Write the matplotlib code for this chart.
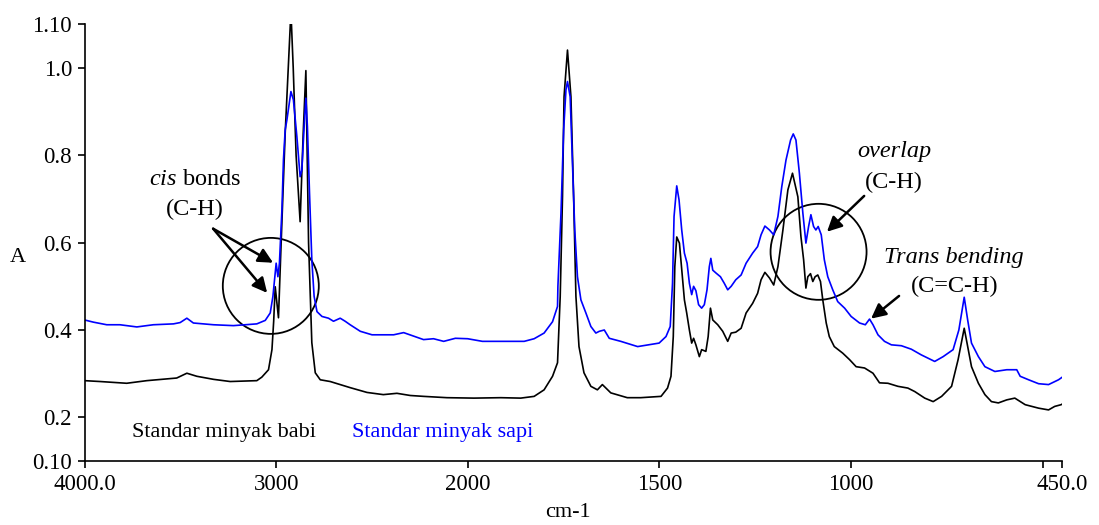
import numpy as np
import matplotlib
matplotlib.use("Agg")
import matplotlib.pyplot as plt
from matplotlib.patches import Circle
from matplotlib.transforms import ScaledTranslation

plt.rcParams['font.family'] = 'serif'
plt.rcParams['font.serif'] = ['Liberation Serif', 'DejaVu Serif']
plt.rcParams['mathtext.fontset'] = 'custom'
plt.rcParams['mathtext.rm'] = 'Liberation Serif'
plt.rcParams['mathtext.it'] = 'Liberation Serif:italic'

# Standar minyak babi (black)
wn_babi = [4000, 3919, 3780, 3675, 3519, 3466, 3414, 3327, 3240, 3101, 3075, 3040, 3022, 3013,
           3005, 2988, 2974, 2953, 2937, 2923, 2911, 2896, 2875, 2859, 2845, 2831, 2814, 2796,
           2770, 2718, 2666, 2614, 2526, 2441, 2370, 2300, 2231, 2109, 1984, 1914, 1862, 1827,
           1801, 1779, 1766, 1759, 1753, 1749, 1740, 1731, 1724, 1718, 1710, 1697, 1679, 1662,
           1649, 1627, 1584, 1549, 1496, 1479, 1470, 1464, 1460, 1455, 1448, 1442, 1435, 1429,
           1422, 1416, 1411, 1405, 1396, 1390, 1379, 1373, 1367, 1361, 1348, 1335, 1322, 1313,
           1301, 1287, 1274, 1257, 1244, 1235, 1225, 1213, 1202, 1191, 1178, 1165, 1153, 1139,
           1131, 1124, 1118, 1113, 1106, 1100, 1094, 1087, 1080, 1074, 1065, 1057, 1044, 1022,
           1004, 987, 965, 943, 926, 904, 878, 852, 834, 808, 786, 764, 738, 721, 705, 696, 686,
           668, 651, 634, 616, 594, 573, 546, 511, 485, 469, 452, 439, 435]
a_babi = [0.284, 0.282, 0.278, 0.284, 0.290, 0.301, 0.294, 0.287, 0.282, 0.284, 0.292, 0.309, 0.355, 0.42,
          0.499, 0.428, 0.60, 0.85, 1.0, 1.13, 1.0, 0.80, 0.648, 0.85, 0.994, 0.60, 0.371, 0.302,
          0.286, 0.282, 0.275, 0.268, 0.257, 0.252, 0.255, 0.250, 0.248, 0.245, 0.244, 0.245, 0.244, 0.248,
          0.263, 0.294, 0.325, 0.477, 0.705, 0.934, 1.041, 0.934, 0.705, 0.477, 0.362, 0.302, 0.271, 0.263,
          0.275, 0.256, 0.245, 0.245, 0.248, 0.267, 0.294, 0.385, 0.545, 0.613, 0.599, 0.538, 0.469, 0.439,
          0.40, 0.37, 0.381, 0.366, 0.339, 0.355, 0.351, 0.385, 0.45, 0.423, 0.412, 0.397, 0.374, 0.393,
          0.395, 0.404, 0.439, 0.461, 0.484, 0.515, 0.532, 0.519, 0.503, 0.545, 0.629, 0.721, 0.759, 0.705,
          0.614, 0.561, 0.496, 0.522, 0.529, 0.511, 0.522, 0.526, 0.511, 0.469, 0.416, 0.385, 0.362, 0.347,
          0.332, 0.316, 0.313, 0.301, 0.279, 0.278, 0.271, 0.267, 0.259, 0.244, 0.236, 0.248, 0.271, 0.332, 0.404, 0.362, 0.316,
          0.278, 0.252, 0.236, 0.233, 0.240, 0.244, 0.229, 0.221, 0.217, 0.225, 0.229, 0.236, 0.233]

# Standar minyak sapi (blue)
wn_sapi = [4000, 3954, 3884, 3815, 3727, 3641, 3536, 3501, 3466, 3432, 3327, 3223, 3101, 3057, 3031,
           3017, 3005, 3000, 2991, 2983, 2970, 2962, 2953, 2944, 2923, 2910, 2892, 2875, 2866, 2854,
           2845, 2837, 2826, 2814, 2802, 2787, 2761, 2727, 2701, 2666, 2640, 2614, 2561, 2500, 2387,
           2335, 2283, 2231, 2179, 2126, 2065, 2001, 1962, 1853, 1827, 1801, 1779, 1766, 1765, 1757,
           1750, 1744, 1740, 1733, 1727, 1721, 1714, 1705, 1692, 1679, 1666, 1657, 1644, 1631, 1601,
           1557, 1501, 1483, 1472, 1466, 1462, 1455, 1449, 1442, 1435, 1428, 1422, 1416, 1411, 1405,
           1398, 1390, 1383, 1376, 1370, 1366, 1361, 1352, 1341, 1331, 1322, 1313, 1301, 1287, 1274,
           1257, 1244, 1235, 1225, 1213, 1202, 1191, 1181, 1170, 1158, 1151, 1144, 1135, 1126, 1118,
           1111, 1105, 1098, 1092, 1086, 1078, 1070, 1061, 1048, 1035, 1017, 1000, 978, 963, 952, 943,
           930, 913, 895, 869, 843, 817, 782, 760, 734, 719, 705, 696, 686, 668, 651, 625, 594, 568,
           559, 537, 511, 485, 459, 441, 435]
a_sapi = [0.423, 0.418, 0.412, 0.412, 0.407, 0.412, 0.414, 0.417, 0.427, 0.416, 0.412, 0.410, 0.414, 0.422, 0.439,
          0.477, 0.53, 0.553, 0.522, 0.553, 0.675, 0.79, 0.858, 0.881, 0.946, 0.927, 0.843, 0.751, 0.766, 0.866,
          0.931, 0.866, 0.713, 0.561, 0.477, 0.442, 0.431, 0.427, 0.420, 0.427, 0.420, 0.412, 0.397, 0.389, 0.389,
          0.394, 0.386, 0.378, 0.380, 0.374, 0.381, 0.380, 0.374, 0.374, 0.380, 0.393, 0.419, 0.454, 0.50, 0.667,
          0.858, 0.950, 0.969, 0.934, 0.782, 0.629, 0.522, 0.469, 0.439, 0.408, 0.393, 0.397, 0.400, 0.381, 0.374,
          0.362, 0.370, 0.385, 0.408, 0.507, 0.660, 0.730, 0.698, 0.629, 0.576, 0.553, 0.507, 0.481, 0.50, 0.490,
          0.458, 0.45, 0.458, 0.492, 0.545, 0.564, 0.537, 0.530, 0.522, 0.507, 0.492, 0.500, 0.515, 0.526, 0.553,
          0.576, 0.591, 0.618, 0.638, 0.629, 0.618, 0.660, 0.728, 0.789, 0.835, 0.849, 0.835, 0.759, 0.668, 0.599,
          0.637, 0.664, 0.637, 0.629, 0.637, 0.618, 0.561, 0.522, 0.492, 0.465, 0.45, 0.431, 0.416, 0.412, 0.425, 0.412,
          0.389, 0.374, 0.366, 0.364, 0.356, 0.343, 0.328, 0.339, 0.355, 0.40, 0.475, 0.423, 0.37, 0.339, 0.316, 0.305, 0.309, 0.309,
          0.294, 0.286, 0.277, 0.275, 0.286, 0.297, 0.292]

x_ticks = [4000, 3000, 2000, 1500, 1000, 500, 450]
x_labels = ['4000.0', '3000', '2000', '1500', '1000', '', '450.0']
y_ticks = [1.10, 1.0, 0.8, 0.6, 0.4, 0.2, 0.10]
y_labels = ['1.10', '1.0', '0.8', '0.6', '0.4', '0.2', '0.10']


# FTIR axis: half scale above 2000 cm-1
def fwd(x):
    x = np.asarray(x, dtype=float)
    return np.where(x > 2000, 2000 + (x - 2000) / 2.0, x)


def inv(u):
    u = np.asarray(u, dtype=float)
    return np.where(u > 2000, 2000 + (u - 2000) * 2.0, u)


fig = plt.figure(figsize=(10.99, 5.25), dpi=100)
ax = fig.add_axes([0.0769, 0.1219, 0.8894, 0.8318])
ax.set_xscale('function', functions=(fwd, inv))

ax.plot(wn_babi, a_babi, color='black', lw=1.2)
ax.plot(wn_sapi, a_sapi, color='#0000ff', lw=1.2)

ax.set_xlim(4000, 450)
ax.set_ylim(0.10, 1.10)
ax.set_xticks(x_ticks)
ax.set_xticklabels(x_labels)
ax.set_yticks(y_ticks)
ax.set_yticklabels(y_labels)
ax.minorticks_off()
ax.tick_params(axis='both', direction='out', length=5, width=1.2, labelsize=16.5, pad=4)
for s in ['top', 'right']:
    ax.spines[s].set_visible(False)
for s in ['left', 'bottom']:
    ax.spines[s].set_linewidth(1.2)

ax.set_ylabel('A', rotation=0, fontsize=16, va='center')
ax.yaxis.set_label_coords(-0.068, 0.467)
ax.set_xlabel('cm-1', fontsize=16, va='center')
ax.xaxis.set_label_coords(0.495, -0.117)

# series labels
ax.text(3752, 0.165, 'Standar minyak babi', color='black', fontsize=16, ha='left', va='center')
ax.text(2603, 0.165, 'Standar minyak sapi', color='#0000ff', fontsize=16, ha='left', va='center')

# circles (in inches, centred on data points)
for cx, cy in [(3028, 0.501), (1085, 0.579)]:
    c = Circle((0, 0), 0.48, transform=fig.dpi_scale_trans + ScaledTranslation(cx, cy, ax.transData),
               fill=False, ec='black', lw=1.3)
    ax.add_artist(c)

# annotations
fs = 17.5
ax.text(3423, 0.744, r'$\mathit{cis}$ bonds', fontsize=fs, ha='center', va='center')
ax.text(3423, 0.675, '(C-H)', fontsize=fs, ha='center', va='center')
ax.text(888, 0.808, 'overlap', fontsize=fs, style='italic', ha='center', va='center')
ax.text(888, 0.739, '(C-H)', fontsize=fs, ha='center', va='center')
ax.text(731, 0.567, 'Trans bending', fontsize=fs, style='italic', ha='center', va='center')
ax.text(731, 0.499, '(C=C-H)', fontsize=fs, ha='center', va='center')

arrows = [((3329, 0.632), (3016, 0.554)),
          ((3329, 0.632), (3047, 0.485)),
          ((966, 0.707), (1063, 0.625)),
          ((875, 0.478), (948, 0.426))]
for start, end in arrows:
    ax.annotate('', xy=end, xytext=start,
                arrowprops=dict(arrowstyle='-|>', color='black', lw=1.8,
                                mutation_scale=22, shrinkA=0, shrinkB=0))

fig.savefig('out.png', dpi=100)
